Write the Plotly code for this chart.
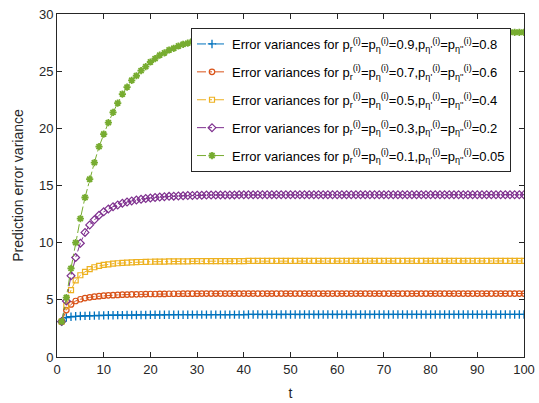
import plotly.graph_objects as go

t = list(range(1, 101))

blue = [3.10, 3.45, 3.52, 3.56, 3.58, 3.60, 3.61, 3.62, 3.63, 3.64,
        3.65, 3.65, 3.66, 3.66, 3.67, 3.67, 3.68, 3.68, 3.68, 3.69,
        3.69, 3.69, 3.69, 3.70, 3.70, 3.70, 3.70, 3.70, 3.71, 3.71,
        3.71, 3.71, 3.71, 3.71, 3.71, 3.71, 3.71, 3.71, 3.71, 3.71,
        3.72, 3.72, 3.72, 3.72, 3.72, 3.72, 3.72, 3.72, 3.72, 3.72,
        3.72, 3.72, 3.72, 3.72, 3.72, 3.72, 3.72, 3.72, 3.72, 3.72,
        3.72, 3.72, 3.72, 3.72, 3.72, 3.72, 3.72, 3.72, 3.72, 3.72,
        3.72, 3.72, 3.72, 3.72, 3.72, 3.72, 3.72, 3.72, 3.72, 3.72,
        3.72, 3.72, 3.72, 3.72, 3.72, 3.72, 3.72, 3.72, 3.72, 3.72,
        3.72, 3.72, 3.72, 3.72, 3.72, 3.72, 3.72, 3.72, 3.72, 3.72]

red = [3.10, 4.10, 4.60, 4.90, 5.05, 5.15, 5.22, 5.28, 5.32, 5.36,
       5.39, 5.41, 5.43, 5.45, 5.46, 5.47, 5.48, 5.49, 5.50, 5.51,
       5.51, 5.52, 5.52, 5.53, 5.53, 5.53, 5.54, 5.54, 5.54, 5.54,
       5.55, 5.55, 5.55, 5.55, 5.55, 5.55, 5.55, 5.55, 5.55, 5.55,
       5.55, 5.55, 5.55, 5.55, 5.55, 5.55, 5.55, 5.55, 5.55, 5.55,
       5.55, 5.55, 5.55, 5.55, 5.55, 5.55, 5.55, 5.55, 5.55, 5.55,
       5.55, 5.55, 5.55, 5.55, 5.55, 5.55, 5.55, 5.55, 5.55, 5.55,
       5.55, 5.55, 5.55, 5.55, 5.55, 5.55, 5.55, 5.55, 5.55, 5.55,
       5.55, 5.55, 5.55, 5.55, 5.55, 5.55, 5.55, 5.55, 5.55, 5.55,
       5.55, 5.55, 5.55, 5.55, 5.55, 5.55, 5.55, 5.55, 5.55, 5.55]

yellow = [3.10, 4.50, 5.85, 6.70, 7.15, 7.45, 7.68, 7.85, 7.97, 8.05,
          8.11, 8.16, 8.20, 8.23, 8.26, 8.28, 8.30, 8.31, 8.32, 8.33,
          8.34, 8.35, 8.35, 8.36, 8.36, 8.37, 8.37, 8.37, 8.38, 8.38,
          8.38, 8.38, 8.38, 8.39, 8.39, 8.39, 8.39, 8.39, 8.39, 8.39,
          8.40, 8.40, 8.40, 8.40, 8.40, 8.40, 8.40, 8.40, 8.40, 8.40,
          8.40, 8.40, 8.40, 8.40, 8.40, 8.40, 8.40, 8.40, 8.40, 8.40,
          8.40, 8.40, 8.40, 8.40, 8.40, 8.40, 8.40, 8.40, 8.40, 8.40,
          8.40, 8.40, 8.40, 8.40, 8.40, 8.40, 8.40, 8.40, 8.40, 8.40,
          8.40, 8.40, 8.40, 8.40, 8.40, 8.40, 8.40, 8.40, 8.40, 8.40,
          8.40, 8.40, 8.40, 8.40, 8.40, 8.40, 8.40, 8.40, 8.40, 8.40]

purple = [3.10, 4.90, 7.10, 8.70, 9.95, 10.90, 11.55, 12.00, 12.40, 12.70,
          12.95, 13.15, 13.30, 13.45, 13.55, 13.65, 13.73, 13.80, 13.86, 13.91,
          13.95, 13.99, 14.02, 14.05, 14.07, 14.09, 14.10, 14.12, 14.13, 14.14,
          14.15, 14.16, 14.16, 14.17, 14.17, 14.18, 14.18, 14.18, 14.19, 14.19,
          14.19, 14.19, 14.20, 14.20, 14.20, 14.20, 14.20, 14.20, 14.20, 14.20,
          14.20, 14.20, 14.20, 14.20, 14.20, 14.20, 14.20, 14.20, 14.20, 14.20,
          14.20, 14.20, 14.20, 14.20, 14.20, 14.20, 14.20, 14.20, 14.20, 14.20,
          14.20, 14.20, 14.20, 14.20, 14.20, 14.20, 14.20, 14.20, 14.20, 14.20,
          14.20, 14.20, 14.20, 14.20, 14.20, 14.20, 14.20, 14.20, 14.20, 14.20,
          14.20, 14.20, 14.20, 14.20, 14.20, 14.20, 14.20, 14.20, 14.20, 14.20]

green = [3.10, 5.20, 7.75, 10.00, 12.10, 13.95, 15.55, 17.00, 18.40, 19.50,
         20.50, 21.40, 22.20, 23.00, 23.60, 24.20, 24.60, 25.05, 25.40, 25.80,
         26.10, 26.40, 26.60, 26.85, 27.00, 27.20, 27.35, 27.45, 27.60, 27.70,
         27.80, 27.88, 27.95, 28.01, 28.06, 28.10, 28.14, 28.17, 28.20, 28.22,
         28.24, 28.26, 28.28, 28.29, 28.30, 28.31, 28.32, 28.33, 28.34, 28.35,
         28.35, 28.36, 28.36, 28.37, 28.37, 28.37, 28.38, 28.38, 28.38, 28.38,
         28.39, 28.39, 28.39, 28.39, 28.39, 28.39, 28.40, 28.40, 28.40, 28.40,
         28.40, 28.40, 28.40, 28.40, 28.40, 28.40, 28.40, 28.40, 28.40, 28.40,
         28.40, 28.40, 28.40, 28.40, 28.40, 28.40, 28.40, 28.40, 28.40, 28.40,
         28.40, 28.40, 28.40, 28.40, 28.40, 28.40, 28.40, 28.40, 28.40, 28.40]

probs = [("0.9", "0.8"), ("0.7", "0.6"), ("0.5", "0.4"), ("0.3", "0.2"), ("0.1", "0.05")]
series = [blue, red, yellow, purple, green]
colors = ["#0072BD", "#D95319", "#EDB120", "#7E2F8E", "#77AC30"]
symbols = ["cross-thin-open", "circle-open", "square-open", "diamond-open", "asterisk-open"]
sizes = [6, 5.5, 5, 6, 6]
mwidths = [1.3, 1.2, 1.2, 1.2, 1.8]


def label(a, b):
    sup = "<sup>(i)</sup>"
    return ("Error variances for p<sub>r</sub>" + sup
            + "=p<sub>η</sub>" + sup + "=" + a
            + ",p<sub>η'</sub>" + sup
            + "=p<sub>η''</sub>" + sup + "=" + b)


fig = go.Figure()
for k, (s, c, m, sz, mw, (a, b)) in enumerate(zip(series, colors, symbols, sizes, mwidths, probs)):
    fig.add_trace(go.Scatter(
        x=t, y=s, mode="lines+markers", name=label(a, b), legendgroup="g%d" % k,
        line=dict(color=c, width=1, dash="dashdot"),
        marker=dict(symbol=m, size=sz, color=c, line=dict(color=c, width=mw)),
    ))

axis_common = dict(
    showline=True, linecolor="#262626", linewidth=1, mirror="ticks",
    ticks="inside", ticklen=5, tickcolor="#262626",
    showgrid=False, zeroline=False, automargin=False,
    tickfont=dict(family="Liberation Sans, Arial", size=13, color="#262626"),
)

fig.update_layout(
    width=539, height=403,
    margin=dict(l=57, r=15, t=14, b=46),
    paper_bgcolor="white", plot_bgcolor="white",
    font=dict(family="Liberation Sans, Arial", size=13, color="#262626"),
    xaxis=dict(range=[0, 100], tickvals=[0, 10, 20, 30, 40, 50, 60, 70, 80, 90, 100],
               title=dict(text="t", font=dict(size=14), standoff=12), **axis_common),
    yaxis=dict(range=[0, 30], tickvals=[0, 5, 10, 15, 20, 25, 30],
               title=dict(text="Prediction error variance", font=dict(size=14), standoff=12),
               **axis_common),
    legend=dict(x=(511 - 57) / 467, y=(357 - 28) / 343, xanchor="right", yanchor="top",
                bgcolor="white", bordercolor="#262626", borderwidth=1,
                font=dict(size=13, color="#000000"), tracegroupgap=8),
    showlegend=True,
)

fig.write_html("out.html")
